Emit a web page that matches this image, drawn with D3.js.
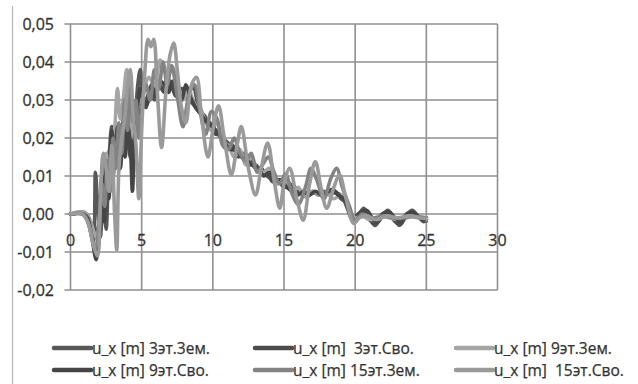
<!DOCTYPE html>
<html>
<head>
<meta charset="utf-8">
<script src="https://cdn.jsdelivr.net/npm/d3@7/dist/d3.min.js"></script>
<style>
  html, body { margin: 0; padding: 0; background: #fff; }
  svg { display: block; }
  text { font-family: "Open Sans", "DejaVu Sans", sans-serif; fill: #333; white-space: pre; }
</style>
</head>
<body>
<svg id="chart" width="638" height="384"></svg>
<script>
// Axis ticks
const xTicks = [0, 5, 10, 15, 20, 25, 30];
const yTicks = [0.05, 0.04, 0.03, 0.02, 0.01, 0.00, -0.01, -0.02];

// Series names and colours
const seriesNames = [
  "u_x [m] 3эт.3ем.",
  "u_x [m]  3эт.Сво.",
  "u_x [m] 9эт.3ем.",
  "u_x [m] 9эт.Сво.",
  "u_x [m] 15эт.3ем.",
  "u_x [m]  15эт.Сво."
];
const seriesColors = ["#585858", "#4c4c4c", "#a5a5a5", "#454545", "#838383", "#9a9a9a"];

// Horizontal displacement u_x [m] against distance, as [x, u_x] pairs
const s3Zem = [[0,0],[1.0,0],[1.3,-0.003],[1.6,-0.007],[1.75,0.011],[1.9,0.003],[2.1,-0.006],[2.3,0.006],[2.5,-0.004],[2.7,0.014],[2.9,0.023],[3.1,0.012],[3.3,0.02],[3.5,0.015],[3.7,0.025],[3.9,0.017],[4.1,0.03],[4.3,0.028],[4.5,0.022],[4.7,0.033],[4.9,0.038],[5.1,0.028],[5.3,0.03],[5.6,0.032],[5.9,0.03],[6.2,0.034],[6.5,0.033],[6.8,0.036],[7.1,0.033],[7.4,0.034],[7.7,0.031],[8.0,0.033],[8.3,0.03],[8.6,0.029],[9.0,0.027],[9.4,0.026],[9.8,0.023],[10.2,0.022],[10.6,0.02],[11.0,0.019],[11.4,0.017],[11.8,0.016],[12.2,0.015],[12.6,0.014],[13.0,0.012],[13.4,0.012],[13.8,0.01],[14.2,0.009],[14.6,0.008],[15.0,0.009],[15.4,0.007],[15.8,0.006],[16.2,0.006],[16.6,0.005],[17.0,0.006],[17.4,0.005],[17.8,0.006],[18.2,0.005],[18.6,0.006],[19.0,0.004],[19.4,0.003],[19.8,-0.001],[20.2,-0.0005],[20.6,0.0015],[21.0,-0.001],[21.4,-0.003],[21.8,-0.001],[22.3,0.001],[22.7,-0.001],[23.1,-0.003],[23.6,-0.0005],[24.0,0.001],[24.4,-0.0005],[24.8,-0.002],[25,-0.0015]];

const s3Svo = [[0,0],[1.1,0],[1.4,-0.002],[1.7,-0.005],[2.0,-0.003],[2.2,0.004],[2.4,-0.002],[2.6,0.008],[2.8,0.018],[3.0,0.01],[3.2,0.023],[3.4,0.016],[3.6,0.022],[3.8,0.018],[4.0,0.026],[4.2,0.015],[4.4,0.024],[4.6,0.03],[4.8,0.026],[5.0,0.031],[5.3,0.028],[5.6,0.033],[5.9,0.031],[6.2,0.034],[6.6,0.032],[7.0,0.035],[7.4,0.031],[7.8,0.033],[8.2,0.031],[8.6,0.034],[9.0,0.028],[9.4,0.025],[9.8,0.024],[10.2,0.021],[10.6,0.021],[11.0,0.018],[11.4,0.018],[11.8,0.015],[12.2,0.016],[12.6,0.013],[13.0,0.013],[13.4,0.011],[13.8,0.011],[14.2,0.0085],[14.6,0.009],[15.0,0.007],[15.4,0.008],[15.8,0.005],[16.2,0.006],[16.6,0.0045],[17.0,0.0055],[17.4,0.0055],[17.8,0.005],[18.2,0.006],[18.6,0.0055],[19.0,0.005],[19.4,0.002],[19.8,-0.0015],[20.2,0],[20.6,0.001],[21.0,-0.0015],[21.4,-0.0025],[21.9,0],[22.3,0.0005],[22.8,-0.002],[23.2,-0.0025],[23.6,0],[24.0,0.0005],[24.5,-0.001],[25,-0.0018]];

const s9Zem = [[0,0],[1.0,0.0005],[1.4,-0.002],[1.8,-0.006],[2.1,0.002],[2.3,0.013],[2.5,0.016],[2.7,0.01],[2.9,0.016],[3.1,0.022],[3.3,0.033],[3.5,0.025],[3.7,0.03],[3.95,0.038],[4.2,0.028],[4.4,0.02],[4.6,0.026],[4.9,0.03],[5.2,0.033],[5.5,0.036],[5.9,0.034],[6.3,0.0405],[6.7,0.037],[7.1,0.039],[7.5,0.035],[7.9,0.03],[8.3,0.033],[8.7,0.029],[9.1,0.028],[9.5,0.024],[9.9,0.022],[10.3,0.024],[10.7,0.019],[11.1,0.018],[11.5,0.015],[11.9,0.017],[12.3,0.013],[12.7,0.015],[13.1,0.012],[13.5,0.011],[14.0,0.012],[14.5,0.008],[15.0,0.009],[15.5,0.006],[16.0,0.007],[16.5,0.0045],[17.0,0.006],[17.5,0.005],[18.0,0.0055],[18.5,0.004],[19.0,0.005],[19.5,0.002],[20.0,-0.001],[20.5,-0.0005],[21,-0.0015],[22,-0.0008],[23,-0.0015],[24,-0.0008],[25,-0.0015]];

const s9Svo = [[0,0],[0.9,0],[1.2,-0.001],[1.5,-0.006],[1.8,-0.012],[2.0,-0.006],[2.2,0.01],[2.35,-0.002],[2.5,0.014],[2.7,0.004],[2.9,0.022],[3.1,0.014],[3.3,0.023],[3.5,0.012],[3.7,0.02],[3.85,0.015],[4.0,0.024],[4.2,0.018],[4.35,0.006],[4.5,0.02],[4.7,0.028],[4.9,0.033],[5.1,0.03],[5.4,0.029],[5.7,0.034],[6.0,0.031],[6.3,0.035],[6.6,0.034],[6.9,0.032],[7.2,0.035],[7.5,0.032],[7.8,0.03],[8.1,0.034],[8.4,0.031],[8.8,0.028],[9.2,0.026],[9.6,0.024],[10.0,0.023],[10.4,0.021],[10.8,0.019],[11.2,0.017],[11.6,0.017],[12.0,0.015],[12.4,0.014],[12.8,0.013],[13.2,0.012],[13.6,0.01],[14.0,0.011],[14.4,0.009],[14.8,0.009],[15.2,0.007],[15.6,0.006],[16.0,0.005],[16.4,0.006],[16.8,0.005],[17.2,0.006],[17.6,0.005],[18.0,0.0055],[18.4,0.0065],[18.8,0.005],[19.2,0.004],[19.6,0.001],[20.0,-0.002],[20.4,0],[20.8,0.001],[21.2,-0.001],[21.6,-0.002],[22.0,0],[22.4,0.0005],[22.8,-0.001],[23.2,-0.002],[23.6,-0.0005],[24.0,0.0005],[24.4,-0.0005],[24.8,-0.0015],[25,-0.001]];

const s15Zem = [[0,0],[0.9,0],[1.3,-0.003],[1.7,-0.009],[2.0,-0.004],[2.2,0.008],[2.4,0.002],[2.6,0.014],[2.8,0.006],[3.0,0.02],[3.2,0.012],[3.4,0.024],[3.6,0.016],[3.8,0.03],[4.0,0.022],[4.2,0.034],[4.4,0.024],[4.6,0.03],[4.8,0.02],[5.0,0.028],[5.3,0.034],[5.6,0.03],[5.9,0.038],[6.2,0.033],[6.5,0.04],[6.8,0.034],[7.1,0.039],[7.5,0.031],[7.9,0.023],[8.3,0.031],[8.7,0.034],[9.1,0.027],[9.5,0.021],[9.9,0.027],[10.3,0.025],[10.7,0.018],[11.1,0.017],[11.5,0.02],[11.9,0.016],[12.3,0.014],[12.7,0.016],[13.1,0.011],[13.5,0.013],[13.9,0.015],[14.3,0.011],[14.7,0.008],[15.1,0.0105],[15.6,0.005],[16.0,0.0025],[16.5,0.007],[16.9,0.012],[17.3,0.009],[17.8,0.004],[18.3,0.0095],[18.7,0.012],[19.1,0.007],[19.6,0.002],[20.0,-0.002],[20.5,0],[21.2,-0.001],[22,-0.0005],[23,-0.0012],[24,-0.0006],[25,-0.001]];

const s15Svo = [[0,0],[0.8,0],[1.2,-0.002],[1.6,-0.008],[1.9,-0.011],[2.1,0.004],[2.3,0.016],[2.5,0.012],[2.7,0.006],[2.9,0.018],[3.1,0.0],[3.25,-0.0095],[3.4,0.012],[3.6,0.02],[3.8,0.025],[4.0,0.033],[4.2,0.038],[4.4,0.026],[4.6,0.018],[4.8,0.004],[5.0,0.022],[5.2,0.036],[5.45,0.046],[5.65,0.044],[5.85,0.046],[6.1,0.032],[6.4,0.0175],[6.7,0.032],[7.0,0.042],[7.25,0.045],[7.5,0.038],[7.8,0.028],[8.1,0.024],[8.5,0.034],[8.85,0.036],[9.2,0.026],[9.65,0.015],[10.0,0.022],[10.4,0.0285],[10.8,0.02],[11.3,0.0103],[11.7,0.018],[12.0,0.023],[12.5,0.012],[13.0,0.005],[13.4,0.012],[13.85,0.0187],[14.3,0.009],[14.7,0.0015],[15.0,0.008],[15.4,0.012],[15.9,0.004],[16.35,-0.0016],[16.8,0.008],[17.2,0.0138],[17.6,0.007],[18.0,0.0015],[18.5,0.007],[18.9,0.0103],[19.3,0.005],[19.9,-0.0025],[20.3,-0.001],[20.8,-0.0005],[21.5,-0.0015],[22.2,-0.0005],[23,-0.001],[23.8,-0.0005],[24.5,-0.001],[25,-0.0012]];

const seriesData = [s3Zem, s3Svo, s9Zem, s9Svo, s15Zem, s15Svo];

const svg = d3.select("#chart");
const plot = { left: 70.5, right: 497.5, top: 24, bottom: 290 };

const x = d3.scaleLinear().domain([0, 30]).range([plot.left, plot.right]);
const y = d3.scaleLinear().domain([-0.02, 0.05]).range([plot.bottom, plot.top]);
const fmtY = v => d3.format(".2f")(v).replace(".", ",").replace("−", "-");

// Frame line on the left edge
svg.append("line")
  .attr("x1", 12.5).attr("x2", 12.5).attr("y1", 6).attr("y2", 384)
  .attr("stroke", "#b5b5b5").attr("stroke-width", 1.2);

// Grid
const grid = svg.append("g").attr("stroke", "#8f8f8f").attr("stroke-width", 1.6);
grid.selectAll("line.h").data(yTicks).join("line")
  .attr("x1", plot.left - 6).attr("x2", plot.right)
  .attr("y1", d => y(d)).attr("y2", d => y(d));
grid.selectAll("line.v").data(xTicks).join("line")
  .attr("x1", d => x(d)).attr("x2", d => x(d))
  .attr("y1", plot.top).attr("y2", plot.bottom);

// Y axis labels
svg.append("g").selectAll("text").data(yTicks).join("text")
  .attr("x", 54).attr("y", d => y(d))
  .attr("dy", "0.36em")
  .attr("text-anchor", "end")
  .attr("font-size", 16)
  .attr("stroke", "#333").attr("stroke-width", 0.3)
  .text(fmtY);

// X axis labels, placed under the zero line
svg.append("g").selectAll("text").data(xTicks).join("text")
  .attr("x", d => x(d)).attr("y", y(0) + 32)
  .attr("text-anchor", "middle")
  .attr("font-size", 16)
  .attr("stroke", "#333").attr("stroke-width", 0.3)
  .text(d => d);

// Lines
const line = d3.line()
  .x(d => x(d[0])).y(d => y(d[1]))
  .curve(d3.curveCatmullRom.alpha(0.5));

svg.append("g").attr("fill", "none").attr("stroke-linejoin", "round").attr("stroke-linecap", "round")
  .selectAll("path").data(seriesData).join("path")
  .attr("d", line)
  .attr("stroke", (d, i) => seriesColors[i])
  .attr("stroke-width", 3.6);

// Legend: two rows of three entries
const legendCols = [54, 255, 456];
const legendRows = [348, 370];
const legend = svg.append("g").selectAll("g").data(seriesNames).join("g")
  .attr("transform", (d, i) => `translate(${legendCols[i % 3]},${legendRows[Math.floor(i / 3)]})`);
legend.append("line")
  .attr("x1", 0).attr("x2", 37).attr("y1", 0).attr("y2", 0)
  .attr("stroke", (d, i) => seriesColors[i])
  .attr("stroke-width", 4.5)
  .attr("stroke-linecap", "round");
legend.append("text")
  .attr("x", 38).attr("y", 0).attr("dy", "0.36em")
  .attr("font-size", 15.5)
  .attr("stroke", "#333").attr("stroke-width", 0.25)
  .text(d => d);
</script>
</body>
</html>
